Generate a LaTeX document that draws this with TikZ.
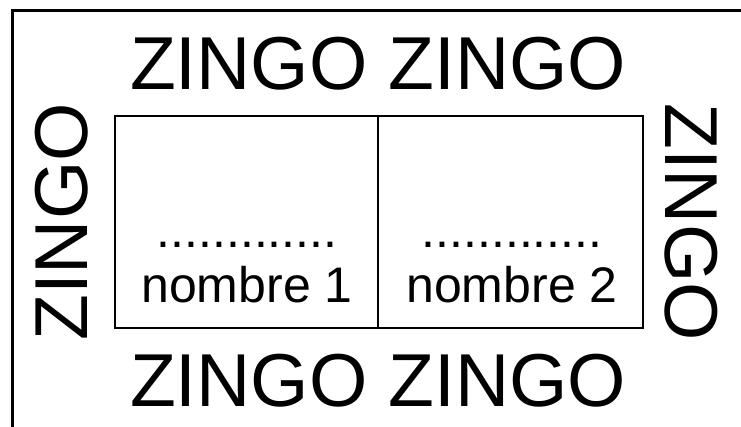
\documentclass[tikz,border=0pt]{standalone}
\usepackage{fontspec}
\setmainfont{Liberation Sans}
\usepackage{tikz}

\begin{document}
\begin{tikzpicture}[x=0.5pt,y=0.5pt]
				\useasboundingbox (0,0) rectangle (741,427);
				\tikzset{big/.style={font=\fontsize{37.5}{40}\selectfont, inner sep=0pt, anchor=base},
					small/.style={font=\fontsize{25}{28}\selectfont, inner sep=0pt, anchor=base}}
				
				% Draw the frame (only left and top edges)
				\draw[line width=1.5pt] (12,0) -- (12,416) -- (741,416);
				
				% Draw the two cells
				\draw[line width=1.2pt] (115,99) rectangle (643,311);
				\draw[line width=1.2pt] (378,99) -- (378,311);
				
				% Words round the cells
				\node[big] (top) at (378,337) {ZINGO ZINGO};
				\node[big] (bottom) at (378,20) {ZINGO ZINGO};
				\node[big, rotate=90] (left) at (88,205) {ZINGO};
				\node[big, rotate=-90] (right) at (665,205) {ZINGO};
				
				% Blanks with their labels
				\node[small] (dots1) at (247,179) {.............};
				\node[small] (name1) at (247,124) {nombre 1};
				\node[small] (dots2) at (512,179) {.............};
				\node[small] (name2) at (512,124) {nombre 2};
			\end{tikzpicture}
\end{document}
